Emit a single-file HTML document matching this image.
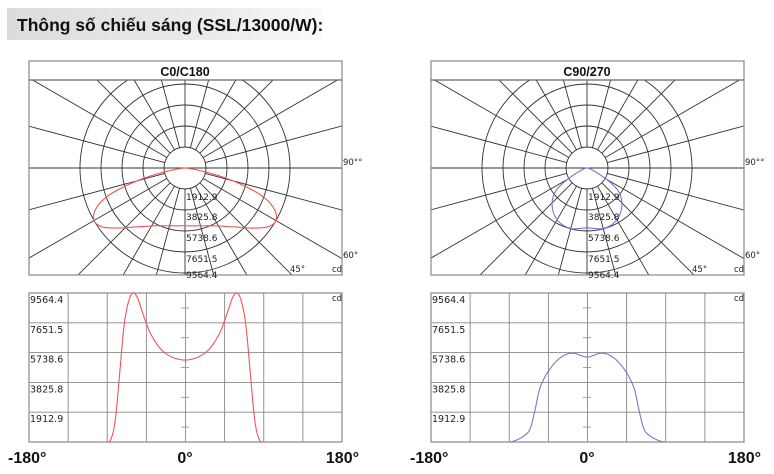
<!DOCTYPE html>
<html><head><meta charset="utf-8"><style>
html,body{margin:0;padding:0;background:#fff;width:774px;height:474px;overflow:hidden}
svg{display:block;overflow:hidden}
</style></head><body>
<svg id="s" width="774" height="474" viewBox="0 0 774 474" xmlns="http://www.w3.org/2000/svg">
<defs><linearGradient id="g" x1="0" x2="1"><stop offset="0" stop-color="#dcdcdc"/><stop offset="0.7" stop-color="#ececec"/><stop offset="1" stop-color="#fafafa"/></linearGradient></defs>
<rect x="7" y="8" width="316" height="32" fill="url(#g)"/>
<text x="17" y="31" font-family="Liberation Sans, sans-serif" font-weight="bold" font-size="17.5" fill="#111">Thông số chiếu sáng (SSL/13000/W):</text>
</svg>
<script>
const S=document.getElementById('s');const NS='http://www.w3.org/2000/svg';
function el(t,a,txt){const e=document.createElementNS(NS,t);for(const k in a)e.setAttribute(k,a[k]);if(txt!==undefined)e.textContent=txt;S.appendChild(e);return e;}
function interp(pts,d){d=Math.abs(d);const n=pts.length;
 for(let i=0;i<n-1;i++){const[a,va]=pts[i],[b,vb]=pts[i+1];if(d>=a&&d<=b){
  const h=b-a,t=(d-a)/h;
  const m0=i>0?(vb-pts[i-1][1])/(b-pts[i-1][0]):0;
  const m1=i<n-2?(pts[i+2][1]-va)/(pts[i+2][0]-a):0;
  const t2=t*t,t3=t2*t;
  let v=(2*t3-3*t2+1)*va+(t3-2*t2+t)*h*m0+(-2*t3+3*t2)*vb+(t3-t2)*h*m1;
  return Math.max(0,v);}}return 0;}
const red=[[0,5260],[10,5350],[20,5600],[30,6100],[40,7000],[45,7700],[50,8500],[55,9300],[60,9564],[65,9000],[70,7500],[75,4500],[80,1500],[85,200],[90,0],[180,0]];
const blue=[[0,5450],[7,5550],[15,5700],[25,5600],[35,5200],[45,4500],[50,4000],[55,3300],[60,2000],[65,900],[70,500],[80,150],[90,0],[180,0]];
const F='DejaVu Sans, sans-serif';
function panel(ox,title,data,col){
 const L=29+ox,R=342+ox,T=61,SEP=80,B=275,cx=185+ox,cy=168;
 const cid='c'+ox;
 const cp=el('clipPath',{id:cid});const r=document.createElementNS(NS,'rect');r.setAttribute('x',L);r.setAttribute('y',SEP);r.setAttribute('width',R-L);r.setAttribute('height',B-SEP);cp.appendChild(r);
 const g=el('g',{'clip-path':'url(#'+cid+')',stroke:'#333','stroke-width':'0.9',fill:'none'});
 for(let a=0;a<360;a+=15){const rad=a*Math.PI/180;const dx=Math.sin(rad),dy=Math.cos(rad);const l=document.createElementNS(NS,'line');l.setAttribute('x1',cx+dx*21);l.setAttribute('y1',cy+dy*21);l.setAttribute('x2',cx+dx*400);l.setAttribute('y2',cy+dy*400);g.appendChild(l);}
 const h=document.createElementNS(NS,'line');h.setAttribute('x1',L);h.setAttribute('x2',R);h.setAttribute('y1',cy);h.setAttribute('y2',cy);g.appendChild(h);
 for(const rr of [21,42,63,84,105]){const c=document.createElementNS(NS,'circle');c.setAttribute('cx',cx);c.setAttribute('cy',cy);c.setAttribute('r',rr);g.appendChild(c);}
 el('rect',{x:L,y:T,width:R-L,height:B-T,fill:'none',stroke:'#888','stroke-width':'1.2'});
 el('line',{x1:L,x2:R,y1:SEP,y2:SEP,stroke:'#666','stroke-width':'1.2'});
 el('text',{x:cx,y:76,'text-anchor':'middle','font-family':'Liberation Sans, sans-serif','font-weight':'bold','font-size':'12.5',fill:'#111'},title);
 let p='';for(let d=-180;d<=180;d+=0.5){const v=interp(data,d);const rr=v/9564.4*105;const rad=d*Math.PI/180;p+=(p?'L':'M')+(cx+Math.sin(rad)*rr).toFixed(2)+','+(cy+Math.cos(rad)*rr).toFixed(2);}
 el('path',{d:p,fill:'none',stroke:col,'stroke-width':'1.1','stroke-linejoin':'round'});
 const lab=[['1912.9',200],['3825.8',220],['5738.6',241],['7651.5',262],['9564.4',278]];
 for(const[t,y]of lab)el('text',{x:cx+1,y:y,'font-family':F,'font-size':'9',fill:'#222'},t);
 el('text',{x:R+1,y:165,'font-family':F,'font-size':'8.5',fill:'#222'},'90°°');
 el('text',{x:R+1,y:258,'font-family':F,'font-size':'8.5',fill:'#222'},'60°');
 el('text',{x:290+ox,y:272,'font-family':F,'font-size':'8.5',fill:'#222'},'45°');
 el('text',{x:332+ox,y:272,'font-family':F,'font-size':'8.5',fill:'#222'},'cd');
 const PT=293,PB=442;const step=(PB-PT)/5;
 for(let i=1;i<8;i++){const x=L+(R-L)*i/8;el('line',{x1:x,x2:x,y1:PT,y2:PB,stroke:'#888','stroke-width':'0.9'});}
 for(let i=1;i<5;i++){const y=PT+step*i;el('line',{x1:L,x2:R,y1:y,y2:y,stroke:'#888','stroke-width':'0.9'});}
 for(let i=0;i<5;i++){const y=PT+step*(i+0.5);el('line',{x1:cx-4,x2:cx+4,y1:y,y2:y,stroke:'#999','stroke-width':'0.9'});}
 el('rect',{x:L,y:PT,width:R-L,height:PB-PT,fill:'none',stroke:'#888','stroke-width':'1.2'});
 const vl=['9564.4','7651.5','5738.6','3825.8','1912.9'];
 for(let i=0;i<5;i++)el('text',{x:L+1,y:PT+step*i+10,'font-family':F,'font-size':'9.5',fill:'#222'},vl[i]);
 el('text',{x:332+ox,y:301,'font-family':F,'font-size':'8.5',fill:'#222'},'cd');
 let q='';for(let d=-90;d<=90;d+=0.5){const v=interp(data,d);const x=cx+d*(R-L)/360;const y=PB-v/9564.4*(PB-PT);q+=(q?'L':'M')+x.toFixed(2)+','+y.toFixed(2);}
 el('path',{d:q,fill:'none',stroke:col,'stroke-width':'1.1','stroke-linejoin':'round'});
 const bf='Liberation Sans, sans-serif';
 el('text',{x:8+ox,y:463,'font-family':bf,'font-weight':'bold','font-size':'16',fill:'#111'},'-180°');
 el('text',{x:cx,y:463,'text-anchor':'middle','font-family':bf,'font-weight':'bold','font-size':'16',fill:'#111'},'0°');
 el('text',{x:359+ox,y:463,'text-anchor':'end','font-family':bf,'font-weight':'bold','font-size':'16',fill:'#111'},'180°');
}
panel(0,'C0/C180',red,'#ee5555');
panel(402,'C90/270',blue,'#7777cc');
</script>
</body></html>
